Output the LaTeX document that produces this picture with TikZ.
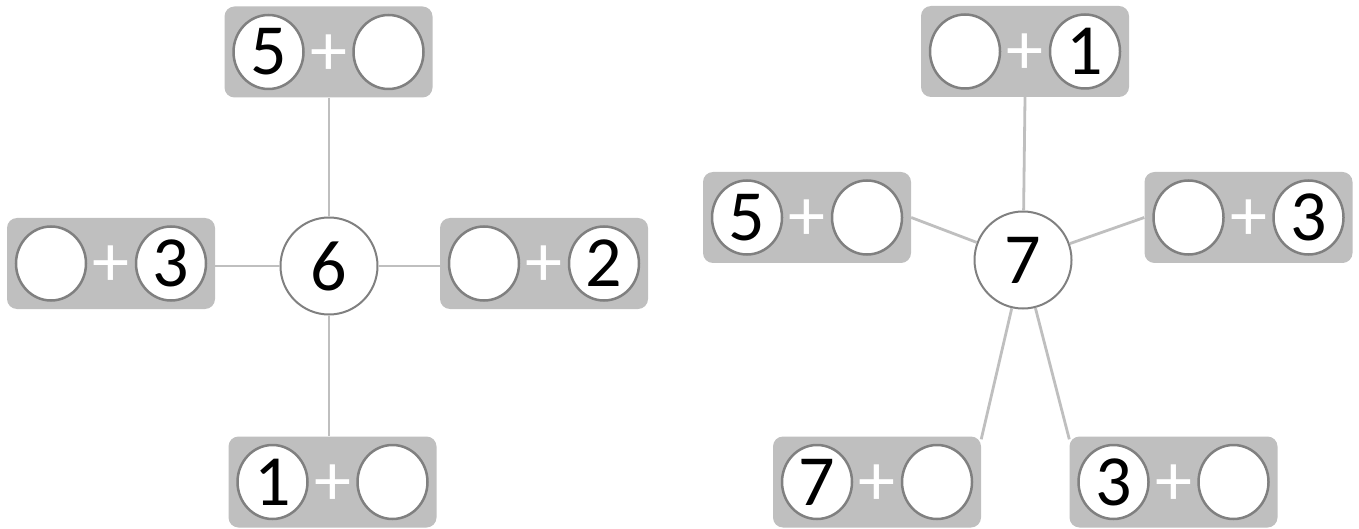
\documentclass[tikz,border=0pt]{standalone}
\usepackage{fontspec}
\setmainfont{Carlito}
\usetikzlibrary{shapes.geometric}
\definecolor{boxgray}{HTML}{BFBFBF}
\definecolor{ringgray}{HTML}{808080}
\definecolor{linegray}{HTML}{BFBFBF}
\newcommand\pairbox[5]{%
  \node[boxnode] (#1) at (#2,#3) {};
  \node[ring] (#1a) at ([xshift=-60pt]#1.center) {#4};
  \node[ring] (#1b) at ([xshift=60pt]#1.center) {#5};
  \node[plussign] (#1p) at ([yshift=-3pt]#1.center) {+};
}
\begin{document}
\begin{tikzpicture}[x=1pt,y=-1pt,
  boxnode/.style={fill=boxgray, rounded corners=10pt, minimum width=208pt, minimum height=91pt, inner sep=0pt},
  ring/.style={ellipse, draw=ringgray, line width=2.5pt, fill=white, minimum width=70pt, minimum height=74pt, inner sep=0pt, font=\fontsize{72}{74}\selectfont},
  hub/.style={circle, draw=ringgray, line width=2pt, fill=white, minimum size=97pt, inner sep=0pt, font=\fontsize{72}{74}\selectfont},
  plussign/.style={text=white, inner sep=0pt, font=\fontsize{74}{76}\selectfont},
  link/.style={draw=linegray, line width=2.8pt}]
\useasboundingbox (0,0) rectangle (1359,529);
% left star
\node[hub] (h6) at (329,266) {6};
\pairbox{t6}{328.5}{52}{5}{}
\pairbox{l6}{111}{263.5}{}{3}
\pairbox{r6}{544}{263.5}{}{2}
\pairbox{b6}{332.5}{482}{1}{}
\draw[link] (h6) -- (h6 |- t6.south);
\draw[link] (h6) -- (h6 -| l6.east);
\draw[link] (h6) -- (h6 -| r6.west);
\draw[link] (h6) -- (h6 |- b6.north);
% right star
\node[hub] (h7) at (1023,260) {7};
\pairbox{t7}{1025}{51.5}{}{1}
\pairbox{l7}{807}{217.5}{5}{}
\pairbox{r7}{1248.5}{217.5}{}{3}
\pairbox{bl7}{877}{482}{7}{}
\pairbox{br7}{1173.5}{482}{3}{}
\draw[link] (h7) -- (t7.south);
\draw[link] (h7) -- (l7.east);
\draw[link] (h7) -- (r7.west);
\draw[link] (h7) -- ([yshift=-3pt]bl7.north east);
\draw[link] (h7) -- ([yshift=-3pt]br7.north west);
\end{tikzpicture}
\end{document}
